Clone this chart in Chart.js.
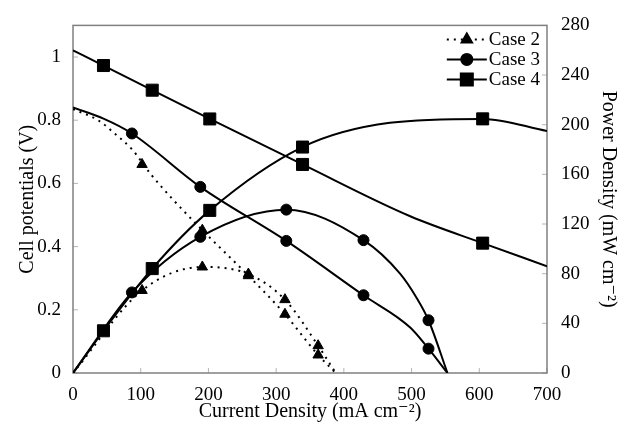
<!DOCTYPE html>
<html>
<head>
<meta charset="utf-8">
<script src="https://cdn.jsdelivr.net/npm/chart.js@4.4.1/dist/chart.umd.min.js"></script>
<style>
  body { margin: 0; background: #fff; }
  #chart { display: block; }
</style>
</head>
<body>
<canvas id="chart" width="627" height="424"></canvas>
<script>
// values, current density in mA cm-2
// *_mark : 1 = point has a marker, 0 = point only shapes the curve

// Case 2 (triangles, dotted) - the dotted voltage curve runs a bit off its markers
const case2_Vline_I = [0, 37, 62, 87, 116, 148, 191, 259, 313, 362, 388];
const case2_Vline   = [0.835, 0.80, 0.757, 0.708, 0.626, 0.548, 0.452, 0.308, 0.186, 0.057, 0];
const case2_Vmk_I   = [102, 191, 259, 313, 362];
const case2_Vmk     = [0.66, 0.452, 0.308, 0.186, 0.057];
const case2_P_I     = [0, 102, 191, 259, 313, 362, 388];
const case2_P       = [0, 66.5, 85.4, 79.7, 59.1, 22, 0];
const case2_P_mark  = [0, 1, 1, 1, 1, 1, 0];

// Case 3 (circles)
const case3_V_I    = [0, 45, 87, 188, 315, 429, 498, 525, 553];
const case3_V      = [0.840, 0.805, 0.758, 0.589, 0.418, 0.246, 0.144, 0.077, 0];
const case3_V_mark = [0, 0, 1, 1, 1, 1, 0, 1, 0];
const case3_P_I    = [0, 87, 188, 315, 429, 483, 508, 525, 553];
const case3_P      = [0, 64.9, 109.7, 131.6, 107, 80, 60, 42.5, 0];
const case3_P_mark = [0, 1, 1, 1, 1, 0, 0, 1, 0];

// Case 4 (squares)
const case4_V_I    = [0, 45, 117, 202, 339, 498, 605, 700];
const case4_V      = [1.021, 0.973, 0.895, 0.804, 0.66, 0.496, 0.411, 0.338];
const case4_V_mark = [0, 1, 1, 1, 1, 0, 1, 0];
const case4_P_I    = [0, 45, 117, 202, 339, 468, 605, 700];
const case4_P      = [0, 34, 84.1, 131, 182, 201.5, 204.7, 194.9];
const case4_P_mark = [0, 1, 1, 1, 1, 0, 1, 0];

const legendNames = ['Case 2', 'Case 3', 'Case 4'];
const xTicks  = [0, 100, 200, 300, 400, 500, 600, 700];
const vTicks  = [0, 0.2, 0.4, 0.6, 0.8, 1];
const pTicks  = [0, 40, 80, 120, 160, 200, 240, 280];

const serif = '"Liberation Serif", "DejaVu Serif", serif';

const styles = {
    2: { pointStyle: 'triangle', radius: 6, dash: [2, 5] },
    3: { pointStyle: 'circle', radius: 5.5, dash: [] },
    4: { pointStyle: 'rect', radius: 8.5, dash: [] }
};

function curve(label, xs, ys, marks, cs, axis, noLine) {
    const st = styles[cs];
    return {
        label: label,
        data: xs.map((x, i) => ({ x: x, y: ys[i] })),
        yAxisID: axis,
        showLine: !noLine,
        borderColor: '#000',
        backgroundColor: '#000',
        borderWidth: 2,
        borderDash: st.dash,
        borderCapStyle: 'butt',
        cubicInterpolationMode: 'monotone',
        pointStyle: st.pointStyle,
        pointRadius: ctx => marks[ctx.dataIndex] ? st.radius : 0,
        pointBorderWidth: 1,
        pointBackgroundColor: '#000',
        pointBorderColor: '#000'
    };
}

const datasets = [
    curve('Case 2 V', case2_Vline_I, case2_Vline, case2_Vline.map(() => 0), 2, 'y'),
    curve('Case 2 V marks', case2_Vmk_I, case2_Vmk, case2_Vmk.map(() => 1), 2, 'y', true),
    curve('Case 2 P', case2_P_I, case2_P, case2_P_mark, 2, 'y1'),
    curve('Case 3 V', case3_V_I, case3_V, case3_V_mark, 3, 'y'),
    curve('Case 3 P', case3_P_I, case3_P, case3_P_mark, 3, 'y1'),
    curve('Case 4 V', case4_V_I, case4_V, case4_V_mark, 4, 'y'),
    curve('Case 4 P', case4_P_I, case4_P, case4_P_mark, 4, 'y1')
];

// plot frame + small inward tick marks
const framePlugin = {
    id: 'frame',
    beforeDatasetsDraw(chart) {
        const ctx = chart.ctx;
        const a = chart.chartArea;
        const sx = chart.scales.x, sy = chart.scales.y, sy1 = chart.scales.y1;
        ctx.save();
        ctx.strokeStyle = '#b5b5b5';
        ctx.lineWidth = 1;
        ctx.beginPath();
        sx.ticks.forEach(t => {
            const p = sx.getPixelForValue(t.value);
            ctx.moveTo(p, a.bottom); ctx.lineTo(p, a.bottom - 5);
        });
        sy.ticks.forEach(t => {
            const p = sy.getPixelForValue(t.value);
            ctx.moveTo(a.left, p); ctx.lineTo(a.left + 5, p);
        });
        sy1.ticks.forEach(t => {
            const p = sy1.getPixelForValue(t.value);
            ctx.moveTo(a.right, p); ctx.lineTo(a.right - 5, p);
        });
        ctx.stroke();
        ctx.strokeStyle = '#808080';
        ctx.lineWidth = 1.5;
        ctx.strokeRect(a.left, a.top, a.right - a.left, a.bottom - a.top);
        ctx.restore();
    }
};

// legend: line sample with marker in the middle, text on the right
const legendPlugin = {
    id: 'caseLegend',
    afterDatasetsDraw(chart) {
        const ctx = chart.ctx;
        const a = chart.chartArea;
        const textRight = a.right - 7;
        ctx.save();
        ctx.font = '19px ' + serif;
        ctx.textAlign = 'right';
        ctx.textBaseline = 'middle';
        ctx.fillStyle = '#000';
        legendNames.forEach((name, i) => {
            const st = styles[i + 2];
            const y = a.top + 14 + i * 20;
            const w = ctx.measureText(name).width;
            const x1 = textRight - w - 2;
            const x0 = x1 - 40;
            ctx.strokeStyle = '#000';
            ctx.lineWidth = 2;
            ctx.setLineDash(st.dash);
            ctx.beginPath();
            ctx.moveTo(x0, y); ctx.lineTo(x1, y);
            ctx.stroke();
            ctx.setLineDash([]);
            Chart.helpers.drawPoint(ctx, {
                pointStyle: st.pointStyle, radius: st.radius, rotation: 0, borderWidth: 1
            }, (x0 + x1) / 2, y);
            ctx.fillStyle = '#000';
            ctx.fillText(name, textRight, y + 1);
        });
        ctx.restore();
    }
};

const tickFont = { family: serif, size: 19 };
const titleFont = { family: serif, size: 20 };

new Chart(document.getElementById('chart'), {
    type: 'line',
    data: { datasets: datasets },
    plugins: [framePlugin, legendPlugin],
    options: {
        responsive: false,
        animation: false,
        devicePixelRatio: 1,
        layout: { padding: { top: 19, left: 0, right: 0, bottom: 0 } },
        plugins: {
            legend: { display: false },
            tooltip: { enabled: false }
        },
        scales: {
            x: {
                type: 'linear',
                min: 0, max: 700,
                grid: { display: false, drawTicks: false },
                border: { display: false },
                afterBuildTicks: s => { s.ticks = xTicks.map(v => ({ value: v })); },
                ticks: { color: '#000', font: tickFont, padding: 11, maxRotation: 0 },
                title: { display: true, text: 'Current Density (mA cm⁻²)', color: '#000', font: titleFont, padding: { top: 0, bottom: 0 } },
                afterFit: s => { s.height = 51; }
            },
            y: {
                type: 'linear', position: 'left',
                min: 0, max: 1.1,
                grid: { display: false, drawTicks: false },
                border: { display: false },
                afterBuildTicks: s => { s.ticks = vTicks.map(v => ({ value: v })); },
                ticks: { color: '#000', font: tickFont, padding: 12, callback: v => String(+v.toFixed(2)) },
                title: { display: true, text: 'Cell potentials (V)', color: '#000', font: titleFont, padding: { top: 16, bottom: 0 } },
                afterFit: s => { s.width = 73; }
            },
            y1: {
                type: 'linear', position: 'right',
                min: 0, max: 280,
                grid: { display: false, drawTicks: false },
                border: { display: false },
                afterBuildTicks: s => { s.ticks = pTicks.map(v => ({ value: v })); },
                ticks: { color: '#000', font: tickFont, padding: 14 },
                title: { display: true, text: 'Power Density (mW cm⁻²)', color: '#000', font: titleFont, padding: { top: 7, bottom: 0 } },
                afterFit: s => { s.width = 80; }
            }
        }
    }
});
</script>
</body>
</html>
